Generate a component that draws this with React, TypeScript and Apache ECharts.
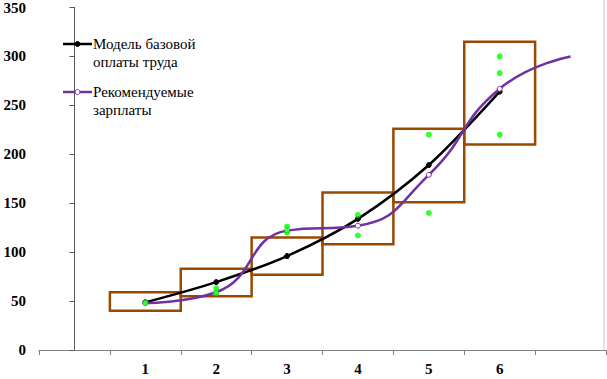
import React, { useEffect, useRef } from "react";
import * as echarts from "echarts";

const xCats = ["", "1", "2", "3", "4", "5", "6", ""];
const yTicks = { min: 0, max: 350, interval: 50 };

const modelX = [1, 2, 3, 4, 5, 6];
const modelY = [48.7, 69.4, 96, 134, 189, 264];

const recX = [1, 2, 3, 4, 5, 6, 7];
const recY = [48, 59, 122, 127, 179, 267, 300];

const obsX = [1, 2, 2, 3, 3, 4, 4, 5, 5, 6, 6, 6];
const obsY = [48, 63, 58, 126, 120, 138, 117, 220, 140, 300, 283, 220];

const boxX = [1, 2, 3, 4, 5, 6];
const boxLow = [40, 55, 77, 108, 151, 210];
const boxHigh = [59, 83, 115, 161, 226, 315];

const seriesNames = ["Модель базовой\nоплаты труда", "Рекомендуемые\nзарплаты"];

const FONT = "Times New Roman, Liberation Serif, serif";
const BLACK = "#000000";
const PURPLE = "#7030A0";
const GREEN = "#00FF00";
const BROWN = "#9A4A00";

export default function App() {
  const ref = useRef<HTMLDivElement>(null);

  useEffect(() => {
    if (!ref.current) return;
    const chart = echarts.init(ref.current, null, { renderer: "svg" });

    const option: any = {
      animation: false,
      backgroundColor: "#ffffff",
      textStyle: { fontFamily: FONT },
      grid: { left: 39, right: 1, top: 7, bottom: 29 },
      xAxis: [
        {
          type: "category",
          data: xCats,
          boundaryGap: true,
          axisLine: { lineStyle: { color: "#808080", width: 1 } },
          axisTick: { show: true, length: 5, lineStyle: { color: "#808080" } },
          axisLabel: {
            fontFamily: FONT,
            fontSize: 15,
            fontWeight: "bold",
            color: "#000",
            margin: 11,
          },
          splitLine: { show: false },
        },
        {
          type: "value",
          min: -0.5,
          max: 7.5,
          show: false,
          splitLine: { show: false },
        },
      ],
      yAxis: {
        type: "value",
        min: yTicks.min,
        max: yTicks.max,
        interval: yTicks.interval,
        axisLine: { show: true, lineStyle: { color: "#595959", width: 1 } },
        axisTick: { show: true, length: 5, lineStyle: { color: "#595959" } },
        axisLabel: {
          fontFamily: FONT,
          fontSize: 15,
          fontWeight: "bold",
          color: "#000",
          margin: 13,
        },
        splitLine: { show: false },
      },
      graphic: [
        {
          type: "line",
          shape: { x1: 604, y1: 0, x2: 604, y2: 350 },
          style: { stroke: "#C8C8C8", lineWidth: 1 },
          z: 1,
        },
        {
          type: "line",
          shape: { x1: 63, y1: 44, x2: 92, y2: 44 },
          style: { stroke: BLACK, lineWidth: 2.5 },
          z: 10,
        },
        {
          type: "circle",
          shape: { cx: 77.5, cy: 44, r: 2.5 },
          style: { fill: BLACK, stroke: BLACK },
          z: 11,
        },
        {
          type: "text",
          x: 93,
          y: 35,
          style: {
            text: seriesNames[0],
            font: "15px Times New Roman, Liberation Serif, serif",
            fill: "#000",
            lineHeight: 18,
            verticalAlign: "top",
          },
          z: 10,
        },
        {
          type: "line",
          shape: { x1: 63, y1: 92, x2: 92, y2: 92 },
          style: { stroke: PURPLE, lineWidth: 2.5 },
          z: 10,
        },
        {
          type: "circle",
          shape: { cx: 77.5, cy: 92, r: 2.5 },
          style: { fill: "#fff", stroke: PURPLE, lineWidth: 1 },
          z: 11,
        },
        {
          type: "text",
          x: 93,
          y: 83,
          style: {
            text: seriesNames[1],
            font: "15px Times New Roman, Liberation Serif, serif",
            fill: "#000",
            lineHeight: 18,
            verticalAlign: "top",
          },
          z: 10,
        },
      ],
      series: [
        {
          type: "custom",
          name: "boxes",
          xAxisIndex: 1,
          data: boxX.map((x, i) => [x, boxLow[i], boxHigh[i]]),
          encode: { x: 0, y: [1, 2] },
          renderItem: (params: any, api: any) => {
            const x = api.value(0);
            const lo = api.value(1);
            const hi = api.value(2);
            const p1 = api.coord([x - 0.5, hi]);
            const p2 = api.coord([x + 0.5, lo]);
            return {
              type: "rect",
              shape: { x: p1[0], y: p1[1], width: p2[0] - p1[0], height: p2[1] - p1[1] },
              style: { fill: "none", stroke: BROWN, lineWidth: 2.5 },
            };
          },
          z: 2,
        },
        {
          type: "line",
          name: seriesNames[0],
          xAxisIndex: 1,
          data: modelX.map((x, i) => [x, modelY[i]]),
          smooth: 0.3,
          symbol: "circle",
          symbolSize: 5,
          showAllSymbol: true,
          lineStyle: { color: BLACK, width: 2.5 },
          itemStyle: { color: BLACK, borderColor: BLACK },
          z: 3,
        },
        {
          type: "line",
          name: seriesNames[1],
          xAxisIndex: 1,
          data: recX.map((x, i) =>
            i === recX.length - 1 ? { value: [x, recY[i]], symbol: "none" } : [x, recY[i]]
          ),
          smooth: 0.5,
          symbol: "circle",
          symbolSize: 5,
          showAllSymbol: true,
          lineStyle: { color: PURPLE, width: 2.5 },
          itemStyle: { color: "#fff", borderColor: PURPLE, borderWidth: 1 },
          z: 4,
        },
        {
          type: "scatter",
          name: "obs",
          xAxisIndex: 1,
          data: obsX.map((x, i) => [x, obsY[i]]),
          symbol: "circle",
          symbolSize: 6,
          itemStyle: { color: GREEN },
          z: 5,
        },
      ],
    };

    chart.setOption(option);
    return () => chart.dispose();
  }, []);

  return (
    <div
      ref={ref}
      style={{ position: "absolute", left: 0, top: 0, width: 607, height: 379 }}
    />
  );
}
